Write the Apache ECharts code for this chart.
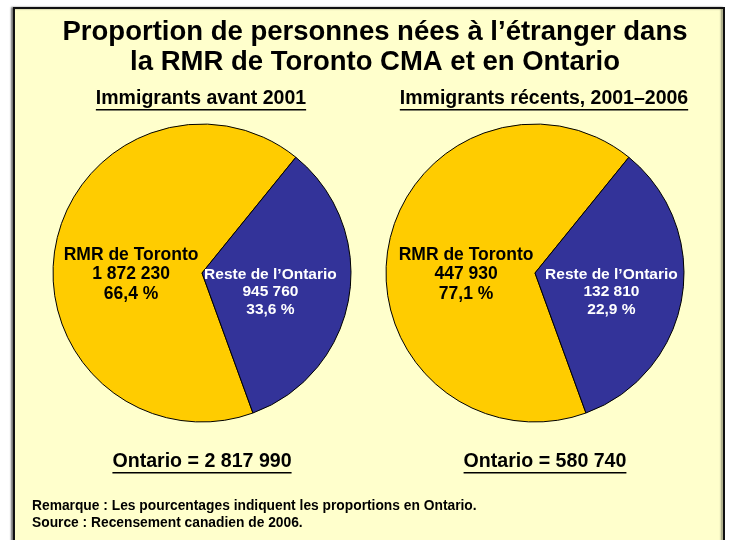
<!DOCTYPE html>
<html>
<head>
<meta charset="utf-8">
<script src="https://cdn.jsdelivr.net/npm/echarts@6/dist/echarts.min.js"></script>
<style>
  html, body { margin: 0; padding: 0; background: #fff; }
  #chart { width: 735px; height: 540px; }
</style>
</head>
<body>
<div id="chart"></div>
<script>
var regions = ['RMR de Toronto', 'Reste de l\u2019Ontario'];
var countsBefore2001 = [1872230, 945760];
var pctBefore2001 = [66.4, 33.6];
var countsRecent = [447930, 132810];
var pctRecent = [77.1, 22.9];
// the right pie in the reference is drawn with the same slice split as the left one
var drawnRecent = [66.4, 33.6];
var ontarioTotals = [2817990, 580740];
var pieTitles = ['Immigrants avant 2001', 'Immigrants r\u00e9cents, 2001\u20132006'];
var titleLines = ['Proportion de personnes n\u00e9es \u00e0 l\u2019\u00e9tranger dans', 'la RMR de Toronto CMA et en Ontario'];
var notes = ['Remarque : Les pourcentages indiquent les proportions en Ontario.', 'Source : Recensement canadien de 2006.'];

var FONT = '"Liberation Sans", Arial, sans-serif';
var colors = ['#FFCC00', '#333399'];

function fmt(n) {
    return String(n).replace(/\B(?=(\d{3})+(?!\d))/g, ' ');
}
function fmtPct(p) {
    return p.toFixed(1).replace('.', ',') + ' %';
}

var measure = document.createElement('canvas').getContext('2d');
function textWidth(str, size) {
    measure.font = 'bold ' + size + 'px ' + FONT;
    return measure.measureText(str).width;
}

function underlined(str, x, y, size) {
    var w = textWidth(str, size);
    return [
        {
            type: 'text', x: x, y: y,
            style: { text: str, font: 'bold ' + size + 'px ' + FONT, fill: '#000', align: 'center', verticalAlign: 'middle' }
        },
        {
            type: 'line',
            shape: { x1: x - w / 2, y1: y + size * 0.55, x2: x + w / 2, y2: y + size * 0.55 },
            style: { stroke: '#000', lineWidth: 1.5 }
        }
    ];
}

// shifts: [yellow dx, blue dx]
function pieSeries(center, drawn, counts, pcts, shifts) {
    return {
        type: 'pie',
        center: center,
        radius: 149,
        startAngle: -70,
        clockwise: true,
        silent: true,
        itemStyle: { borderColor: '#000', borderWidth: 1 },
        label: {
            position: 'inside',
            fontFamily: FONT,
            fontWeight: 'bold',
            formatter: function (p) {
                var i = p.dataIndex;
                return regions[i] + '\n' + fmt(counts[i]) + '\n' + fmtPct(pcts[i]);
            }
        },
        labelLine: { show: false },
        labelLayout: function (p) {
            return p.dataIndex === 0 ? { dx: shifts[0], dy: 14 } : { dx: shifts[1], dy: 6 };
        },
        data: drawn.map(function (v, i) {
            return {
                value: v,
                name: regions[i],
                itemStyle: { color: colors[i] },
                label: i === 0
                    ? { color: '#000', fontSize: 17.5, lineHeight: 19.5 }
                    : { color: '#fff', fontSize: 15.5, lineHeight: 17.5 }
            };
        })
    };
}

var graphics = [
    {
        type: 'rect', z: -10,
        shape: { x: 14, y: 8, width: 710, height: 545 },
        style: { fill: '#FFFFCC', stroke: '#111', lineWidth: 2, shadowColor: 'rgba(0,0,0,0.45)', shadowBlur: 2, shadowOffsetX: -2, shadowOffsetY: 0 }
    },
    {
        type: 'text', x: 375, y: 32,
        style: { text: titleLines[0], font: 'bold 27.5px ' + FONT, fill: '#000', align: 'center', verticalAlign: 'middle' }
    },
    {
        type: 'text', x: 375, y: 62,
        style: { text: titleLines[1], font: 'bold 27.5px ' + FONT, fill: '#000', align: 'center', verticalAlign: 'middle' }
    },
    {
        type: 'text', x: 32, y: 506,
        style: { text: notes[0], font: 'bold 13.8px ' + FONT, fill: '#000', verticalAlign: 'middle' }
    },
    {
        type: 'text', x: 32, y: 523,
        style: { text: notes[1], font: 'bold 13.8px ' + FONT, fill: '#000', verticalAlign: 'middle' }
    }
];
graphics = graphics
    .concat(underlined(pieTitles[0], 201, 99, 19.5))
    .concat(underlined(pieTitles[1], 544, 99, 19.5))
    .concat(underlined('Ontario = ' + fmt(ontarioTotals[0]), 202, 462, 19.6))
    .concat(underlined('Ontario = ' + fmt(ontarioTotals[1]), 545, 462, 19.6));

var chart = echarts.init(document.getElementById('chart'));
chart.setOption({
    backgroundColor: '#fff',
    animation: false,
    graphic: graphics,
    series: [
        pieSeries([202, 273], pctBefore2001, countsBefore2001, pctBefore2001, [5.5, -8]),
        pieSeries([535, 273], drawnRecent, countsRecent, pctRecent, [7.5, 0])
    ]
});
</script>
</body>
</html>
